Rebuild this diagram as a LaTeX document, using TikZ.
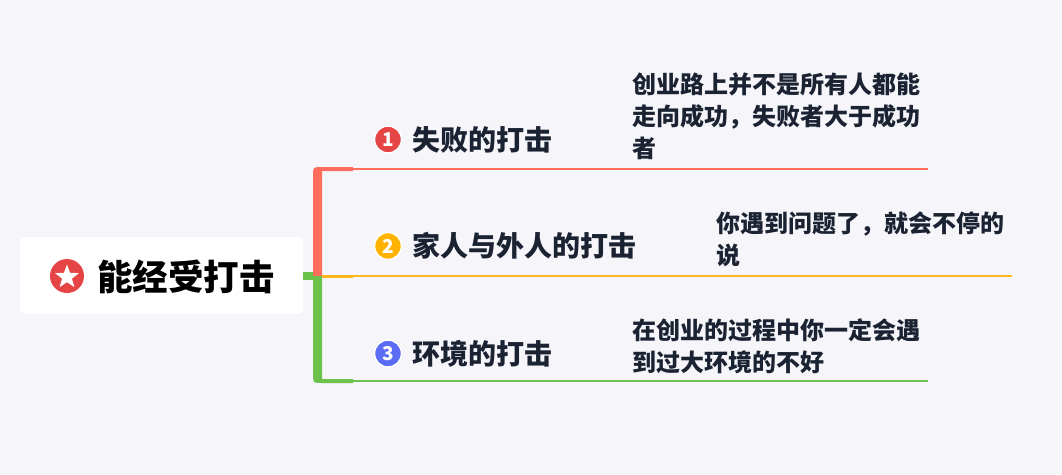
\documentclass[tikz,border=0pt]{standalone}
\usepackage{fontspec}
\setmainfont{Noto Sans CJK SC}
\usepackage{tikz}
\usetikzlibrary{shapes.geometric,positioning}
\definecolor{bgcol}{HTML}{F5F5FA}
\definecolor{redline}{HTML}{FF6E5D}
\definecolor{yelline}{HTML}{FFB71B}
\definecolor{grnline}{HTML}{6CC24A}
\definecolor{rednum}{HTML}{E64545}
\definecolor{yelnum}{HTML}{FFB300}
\definecolor{blunum}{HTML}{5C6DF5}
\definecolor{ink}{HTML}{1B2333}

\begin{document}
\begin{tikzpicture}[x=1pt,y=-1pt,every node/.style={inner sep=0pt,text=ink},
  rootbox/.style={fill=white,rounded corners=5pt,minimum width=283pt,minimum height=77pt},
  roottitle/.style={font=\fontsize{35.5}{35}\selectfont\bfseries,text=black,anchor=west},
  numdot/.style={circle,draw=white,line width=1.5pt,minimum size=27pt,text=white,font=\fontsize{19}{19}\selectfont\bfseries},
  topic/.style={font=\fontsize{28}{28}\selectfont\bfseries,anchor=west},
  leaf/.style={font=\fontsize{24}{32}\selectfont\bfseries,anchor=north west,align=left},
  branchline/.style={line width=2pt}]
  \fill[bgcol] (0,0) rectangle (1062,474);
  \useasboundingbox (0,0) rectangle (1062,474);

  \node[rootbox] (root) at (161.5,275.5) {};
  \node[circle,fill=rednum,minimum size=34pt] (badge) at (67,276) {};
  \node[star,star points=5,star point ratio=2.4,fill=white,minimum size=25pt] at (67,277) {};
  \node[roottitle] (title) at (97,277) {能经受打击};

  \node[numdot,fill=rednum] (n1) at (388,139.5) {1};
  \node[topic] (t1) at (412,140) {失败的打击};
  \node[numdot,fill=yelnum] (n2) at (388,246) {2};
  \node[topic] (t2) at (412,246) {家人与外人的打击};
  \node[numdot,fill=blunum] (n3) at (388,353.5) {3};
  \node[topic] (t3) at (412,354) {环境的打击};

  \node[leaf] (l1) at (632,73) {创业路上并不是所有人都能\\走向成功，失败者大于成功\\者};
  \node[leaf] (l2) at (716,212) {你遇到问题了，就会不停的\\说};
  \node[leaf] (l3) at (632,318) {在创业的过程中你一定会遇\\到过大环境的不好};

  \coordinate (fork) at (313,276);
  \coordinate (e1) at (928,169);
  \coordinate (e2) at (1012,276);
  \coordinate (e3) at (928,381);

  \fill[grnline] (root.east) ++(0,-4) rectangle ++(10,8);
  \fill[redline] (fork) -- (313,176) .. controls (313,167) .. (322,167) -- (353,167) -- (353,171) -- (322,171) -- (322,276) -- cycle;
  \fill[grnline] (fork) -- (313,374) .. controls (313,383) .. (322,383) -- (353,383) -- (353,379) -- (322,379) -- (322,276) -- cycle;
  \draw[yelline,line width=3pt] (322,276) -- (353,276);

  \draw[redline,branchline] (353,169) -- (e1);
  \draw[yelline,branchline] (353,276) -- (e2);
  \draw[grnline,branchline] (353,381) -- (e3);
\end{tikzpicture}
\end{document}
